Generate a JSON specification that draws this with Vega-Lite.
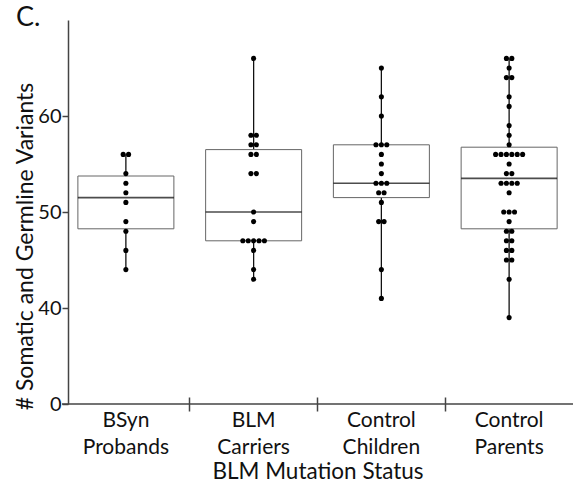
{
  "$schema": "https://vega.github.io/schema/vega-lite/v6.json",
  "width": 511,
  "height": 384,
  "autosize": {"type": "none"},
  "padding": {"left": 62, "top": 20, "right": 2, "bottom": 78},
  "config": {"view": {"stroke": null}, "font": "Lato"},
  "title": {"text": "C.", "anchor": "start", "frame": "group", "fontSize": 27, "fontWeight": "normal", "color": "#111", "dx": -46, "baseline": "top", "offset": 0, "dy": 12, "font": "Lato"},
  "data": {
    "values": [
      {"g": "BSyn Probands", "v": 56}, {"g": "BSyn Probands", "v": 56}, {"g": "BSyn Probands", "v": 54}, {"g": "BSyn Probands", "v": 53}, {"g": "BSyn Probands", "v": 52},
      {"g": "BSyn Probands", "v": 51}, {"g": "BSyn Probands", "v": 49}, {"g": "BSyn Probands", "v": 48}, {"g": "BSyn Probands", "v": 46}, {"g": "BSyn Probands", "v": 44},
      {"g": "BLM Carriers", "v": 66}, {"g": "BLM Carriers", "v": 58}, {"g": "BLM Carriers", "v": 58}, {"g": "BLM Carriers", "v": 57}, {"g": "BLM Carriers", "v": 57},
      {"g": "BLM Carriers", "v": 56}, {"g": "BLM Carriers", "v": 56}, {"g": "BLM Carriers", "v": 54}, {"g": "BLM Carriers", "v": 54}, {"g": "BLM Carriers", "v": 50},
      {"g": "BLM Carriers", "v": 49}, {"g": "BLM Carriers", "v": 47}, {"g": "BLM Carriers", "v": 47}, {"g": "BLM Carriers", "v": 47}, {"g": "BLM Carriers", "v": 47},
      {"g": "BLM Carriers", "v": 47}, {"g": "BLM Carriers", "v": 46}, {"g": "BLM Carriers", "v": 44}, {"g": "BLM Carriers", "v": 43},
      {"g": "Control Children", "v": 65}, {"g": "Control Children", "v": 62}, {"g": "Control Children", "v": 60}, {"g": "Control Children", "v": 57}, {"g": "Control Children", "v": 57},
      {"g": "Control Children", "v": 57}, {"g": "Control Children", "v": 56}, {"g": "Control Children", "v": 55}, {"g": "Control Children", "v": 54}, {"g": "Control Children", "v": 53},
      {"g": "Control Children", "v": 53}, {"g": "Control Children", "v": 53}, {"g": "Control Children", "v": 52}, {"g": "Control Children", "v": 52}, {"g": "Control Children", "v": 51},
      {"g": "Control Children", "v": 49}, {"g": "Control Children", "v": 49}, {"g": "Control Children", "v": 44}, {"g": "Control Children", "v": 41},
      {"g": "Control Parents", "v": 66}, {"g": "Control Parents", "v": 66}, {"g": "Control Parents", "v": 65}, {"g": "Control Parents", "v": 64}, {"g": "Control Parents", "v": 64},
      {"g": "Control Parents", "v": 62}, {"g": "Control Parents", "v": 61}, {"g": "Control Parents", "v": 59}, {"g": "Control Parents", "v": 58}, {"g": "Control Parents", "v": 57},
      {"g": "Control Parents", "v": 56}, {"g": "Control Parents", "v": 56}, {"g": "Control Parents", "v": 56}, {"g": "Control Parents", "v": 56}, {"g": "Control Parents", "v": 56},
      {"g": "Control Parents", "v": 56}, {"g": "Control Parents", "v": 55}, {"g": "Control Parents", "v": 54}, {"g": "Control Parents", "v": 54}, {"g": "Control Parents", "v": 53},
      {"g": "Control Parents", "v": 53}, {"g": "Control Parents", "v": 53}, {"g": "Control Parents", "v": 53}, {"g": "Control Parents", "v": 52}, {"g": "Control Parents", "v": 50},
      {"g": "Control Parents", "v": 50}, {"g": "Control Parents", "v": 50}, {"g": "Control Parents", "v": 49}, {"g": "Control Parents", "v": 48}, {"g": "Control Parents", "v": 48},
      {"g": "Control Parents", "v": 47}, {"g": "Control Parents", "v": 47}, {"g": "Control Parents", "v": 46}, {"g": "Control Parents", "v": 46}, {"g": "Control Parents", "v": 45},
      {"g": "Control Parents", "v": 45}, {"g": "Control Parents", "v": 43}, {"g": "Control Parents", "v": 39}
    ]
  },
  "layer": [
    {
      "data": {"values": [{}]},
      "mark": {"type": "rule", "color": "#444", "strokeWidth": 1.5},
      "encoding": {"y": {"datum": 30, "type": "quantitative", "scale": {"domain": [30, 70]}}}
    },
    {
      "mark": {
        "type": "boxplot",
        "extent": "min-max",
        "size": 96,
        "ticks": false,
        "box": {"fill": "white", "stroke": "#666", "strokeWidth": 1},
        "median": {"color": "#000", "fill": "#000", "thickness": 1.6, "strokeWidth": 0},
        "rule": {"stroke": "#111", "strokeWidth": 1.3}
      },
      "encoding": {
        "x": {
          "field": "g", "type": "nominal",
          "sort": ["BSyn Probands", "BLM Carriers", "Control Children", "Control Parents"],
          "scale": {"paddingInner": 0, "paddingOuter": 0},
          "axis": {
            "title": "BLM Mutation Status",
            "domain": false,
            "offset": -7,
            "tickSize": 14,
            "tickColor": "#444",
            "tickWidth": 1.5,
            "bandPosition": 0,
            "tickOpacity": {"condition": {"test": "datum.value === 'BSyn Probands'", "value": 0}, "value": 1},
            "labelExpr": "split(datum.label, ' ')",
            "labelFontSize": 21,
            "labelLineHeight": 27.5,
            "labelColor": "#111",
            "labelPadding": -2,
            "labelBaseline": "top",
            "labelAngle": 0,
            "titleFontSize": 22.5,
            "titleFontWeight": "normal",
            "titleColor": "#111",
            "titleY": 81,
            "titleBaseline": "alphabetic"
          }
        },
        "y": {
          "field": "v", "type": "quantitative",
          "scale": {"domain": [30, 70]},
          "axis": {
            "title": "# Somatic and Germline Variants",
            "values": [30, 40, 50, 60],
            "labelExpr": "datum.value == 30 ? '0' : datum.label",
            "offset": -6,
            "grid": false,
            "domainColor": "#444",
            "domainWidth": 1.5,
            "tickColor": "#444",
            "tickWidth": 1.5,
            "tickSize": 6,
            "labelFontSize": 20,
            "labelPadding": 1,
            "labelColor": "#111",
            "titleFontSize": 23,
            "titleFontWeight": "normal",
            "titleColor": "#111",
            "titleX": -36,
            "titleY": 226,
            "titleAngle": 270,
            "titleBaseline": "alphabetic",
            "titleAlign": "center"
          }
        }
      }
    },
    {
      "transform": [
        {"window": [{"op": "row_number", "as": "r"}], "groupby": ["g", "v"]},
        {"joinaggregate": [{"op": "count", "as": "n"}], "groupby": ["g", "v"]},
        {"calculate": "datum.r - (datum.n + 1) / 2", "as": "off"}
      ],
      "mark": {"type": "circle", "size": 26, "color": "black", "opacity": 1},
      "encoding": {
        "x": {"field": "g", "type": "nominal", "sort": ["BSyn Probands", "BLM Carriers", "Control Children", "Control Parents"]},
        "xOffset": {"field": "off", "type": "quantitative", "scale": {"domain": [-3, 3], "range": [47.675, 80.075]}},
        "y": {"field": "v", "type": "quantitative"}
      }
    }
  ]
}
